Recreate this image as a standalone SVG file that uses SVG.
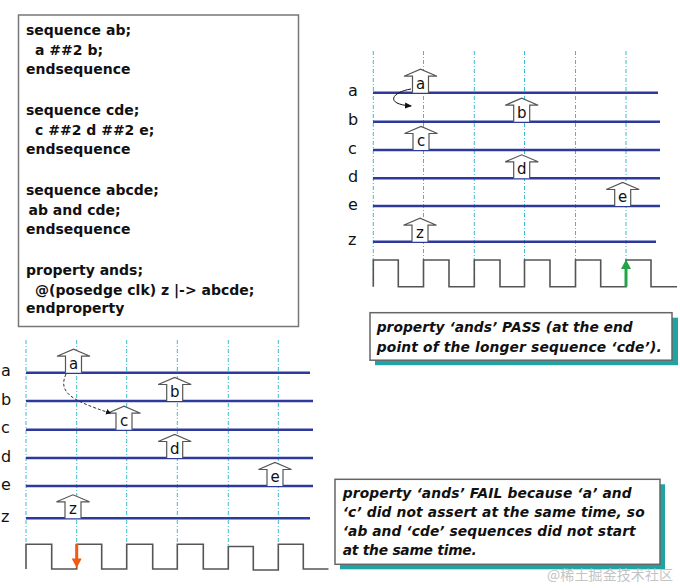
<svg xmlns="http://www.w3.org/2000/svg" width="680" height="588" viewBox="0 0 680 588">
<style>
.code{font-family:"DejaVu Sans",Verdana,sans-serif;font-weight:bold;font-size:14px;fill:#111}
.lbl{font-family:"DejaVu Sans",Verdana,sans-serif;font-size:16px;fill:#111}
.al{font-family:"DejaVu Sans",Verdana,sans-serif;font-size:15px;fill:#111;text-anchor:middle}
.note{font-family:"DejaVu Sans",Verdana,sans-serif;font-weight:bold;font-style:italic;font-size:13.8px;fill:#111}
.sig{stroke:#2d3a9c;stroke-width:2.4;fill:none}
.grid{stroke:#3bbccc;stroke-width:1;stroke-dasharray:4 2 1 2;fill:none}
.clk{stroke:#555;stroke-width:1.6;fill:none}
.arw{fill:#fff;stroke:#555;stroke-width:1.2}
.box{fill:#fff;stroke:#666;stroke-width:1.5}
.shadow{fill:#1fa3a3}
.wm{font-family:"Noto Sans CJK SC","Liberation Serif",serif;font-size:14px;fill:#c4c4c4}
</style>
<defs>
<path id="up" d="M-8,0 V-16.5 H-16.5 L0,-23.5 L16.5,-16.5 H8 V0" class="arw"/>
<marker id="mh" markerWidth="8" markerHeight="8" refX="6" refY="4" orient="auto" markerUnits="userSpaceOnUse">
<path d="M0,1 L7,4 L0,7 Z" fill="#111"/>
</marker>
<marker id="mh2" markerWidth="6" markerHeight="6" refX="4" refY="3" orient="auto" markerUnits="userSpaceOnUse">
<path d="M0,0 L5,3 L0,6 Z" fill="#111"/>
</marker>
</defs>
<rect width="680" height="588" fill="#fff"/>

<g id="code">
<rect x="18.5" y="15" width="280" height="311.5" fill="#fff" stroke="#777" stroke-width="1.5"/>
<text class="code" x="26" y="35">sequence ab;</text>
<text class="code" x="35" y="54.5">a ##2 b;</text>
<text class="code" x="26" y="74">endsequence</text>
<text class="code" x="26" y="115">sequence cde;</text>
<text class="code" x="35" y="134.5">c ##2 d ##2 e;</text>
<text class="code" x="26" y="154">endsequence</text>
<text class="code" x="26" y="195">sequence abcde;</text>
<text class="code" x="28.5" y="214.5">ab and cde;</text>
<text class="code" x="26" y="234">endsequence</text>
<text class="code" x="26" y="275">property ands;</text>
<text class="code" x="35" y="294.5">@(posedge clk) z |-&gt; abcde;</text>
<text class="code" x="26" y="313">endproperty</text>
</g>

<g id="pass-timing">
<g id="pass-grid">
<path class="grid" d="M373.3,51 V286 M423.5,51 V260 M474.3,51 V286 M524.5,51 V260 M575.5,51 V286 M626,51 V260"/>
</g>
<g id="pass-signals">
<text class="lbl" x="348" y="95.5">a</text>
<text class="lbl" x="348" y="125">b</text>
<text class="lbl" x="348" y="153.5">c</text>
<text class="lbl" x="348" y="181.5">d</text>
<text class="lbl" x="348" y="209.5">e</text>
<text class="lbl" x="348" y="245">z</text>
<path class="sig" d="M373,92.7 H658 M373,121.7 H660 M373,150 H660 M373,178.3 H660 M373,206 H660 M373,241.7 H656"/>
</g>
<g id="pass-a"><use href="#up" x="420.5" y="92.7"/><text class="al" x="420.5" y="88.5">a</text></g>
<g id="pass-b"><use href="#up" x="521.7" y="121.7"/><text class="al" x="521.7" y="117.5">b</text></g>
<g id="pass-c"><use href="#up" x="421" y="150"/><text class="al" x="421" y="145.8">c</text></g>
<g id="pass-d"><use href="#up" x="521.7" y="178.3"/><text class="al" x="521.7" y="174.1">d</text></g>
<g id="pass-e"><use href="#up" x="622.7" y="206"/><text class="al" x="622.7" y="201.8">e</text></g>
<g id="pass-z"><use href="#up" x="420" y="241.7"/><text class="al" x="420" y="237.5">z</text></g>
<g id="pass-clk">
<path class="clk" d="M373.3,286.7 V260 H398.3 V286.7 H423.5 V260 H449 V286.7 H474.3 V260 H500 V286.7 H524.5 V260 H550 V286.7 H575.5 V260 H600.7 V286.7 H626 V260 H651 V286.7 H677"/>
<path d="M626,286.5 V268" stroke="#22a544" stroke-width="3" fill="none"/>
<path d="M621,269 L626,259.5 L631,269 Z" fill="#22a544"/>
</g>
</g>

<g id="fail-timing">
<g id="fail-grid">
<path class="grid" d="M26,340 V544 M76.7,340 V544 M126.7,340 V544 M177.3,340 V544 M228.3,340 V546 M278.3,340 V544"/>
</g>
<g id="fail-signals">
<text class="lbl" x="1" y="376">a</text>
<text class="lbl" x="1" y="404.5">b</text>
<text class="lbl" x="1" y="433">c</text>
<text class="lbl" x="1" y="461.5">d</text>
<text class="lbl" x="1" y="489.5">e</text>
<text class="lbl" x="1" y="521.5">z</text>
<path class="sig" d="M26,372.7 H310 M26,401 H313 M26,429.7 H313 M26,458 H313 M26,486 H313 M26,518.3 H310"/>
</g>
<g id="fail-a"><use href="#up" x="73.5" y="372.7"/><text class="al" x="73.5" y="368.5">a</text></g>
<g id="fail-b"><use href="#up" x="174.7" y="401"/><text class="al" x="174.7" y="396.8">b</text></g>
<g id="fail-c"><use href="#up" x="124" y="429.7"/><text class="al" x="124" y="425.5">c</text></g>
<g id="fail-d"><use href="#up" x="174.7" y="458"/><text class="al" x="174.7" y="453.8">d</text></g>
<g id="fail-e"><use href="#up" x="275" y="486"/><text class="al" x="275" y="481.8">e</text></g>
<g id="fail-z"><use href="#up" x="73" y="518.3"/><text class="al" x="73" y="514.1">z</text></g>
<g id="fail-clk">
<path class="clk" d="M26,569 V544.3 H51.7 V569 H76.7 V544.3 H101.7 V569 H126.7 V544.3 H152.7 V569 H177.3 V544.3 H203.3 V569 H228.3 V546.5 H253.3 V570 H278.3 V544.3 H303.3 V569 H328.5"/>
<path d="M76.7,544 V560" stroke="#f05a14" stroke-width="3" fill="none"/>
<path d="M71.7,558.5 L76.7,568 L81.7,558.5 Z" fill="#f05a14"/>
</g>
</g>

<g id="connectors">
<path d="M411,89 C392,92 384,104 411,106" fill="none" stroke="#111" stroke-width="1" marker-end="url(#mh)"/>
<path d="M66,374 C58,392 70,400 110,413" fill="none" stroke="#333" stroke-width="1" stroke-dasharray="3 2" marker-end="url(#mh2)"/>
</g>

<g id="pass-note">
<rect class="shadow" x="375" y="317.7" width="303" height="47.5"/>
<rect class="box" x="370" y="312.7" width="302" height="47.5"/>
<text class="note" x="376.7" y="331.7" textLength="256">property ‘ands’ PASS (at the end</text>
<text class="note" x="376.7" y="351.7" textLength="285">point of the longer sequence ‘cde’).</text>
</g>

<g id="fail-note">
<rect class="shadow" x="340" y="484.3" width="325" height="85"/>
<rect class="box" x="335" y="479.3" width="325" height="85"/>
<text class="note" x="342.7" y="498.3" textLength="289">property ‘ands’ FAIL because ‘a’ and</text>
<text class="note" x="342.7" y="517" textLength="302">‘c’ did not assert at the same time, so</text>
<text class="note" x="342.7" y="535.7" textLength="293">‘ab and ‘cde’ sequences did not start</text>
<text class="note" x="342.7" y="555" textLength="134">at the same time.</text>
</g>

<text class="wm" x="547" y="580" textLength="126">@稀土掘金技术社区</text>
</svg>
